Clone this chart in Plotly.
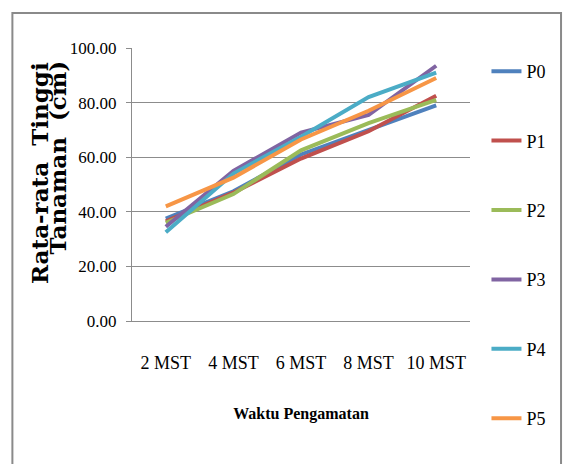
import plotly.graph_objects as go

# Observation times and mean plant height (cm) per treatment
weeks = ["2 MST", "4 MST", "6 MST", "8 MST", "10 MST"]
p0 = [37.5, 47.5, 61.0, 70.0, 79.0]
p1 = [36.5, 47.0, 59.5, 69.5, 82.5]
p2 = [36.0, 46.5, 62.5, 72.5, 81.0]
p3 = [34.5, 55.0, 69.0, 75.5, 93.5]
p4 = [32.5, 54.0, 67.5, 82.0, 91.0]
p5 = [42.0, 52.5, 66.5, 77.0, 89.0]
series_names = ["P0", "P1", "P2", "P3", "P4", "P5"]
series_values = [p0, p1, p2, p3, p4, p5]
colors = ["#4F81BD", "#C0504D", "#9BBB59", "#8064A2", "#4BACC6", "#F79646"]

W, H = 563, 464
ML, MR, MT, MB = 132, 82, 48, 143
PW, PH = W - ML - MR, H - MT - MB


def px_x(x):
    return (x - ML) / PW


def px_y(y):
    return (H - MB - y) / PH


fig = go.Figure()
for name, vals, col in zip(series_names, series_values, colors):
    fig.add_trace(go.Scatter(
        x=weeks, y=vals, name=name, mode="lines",
        line=dict(color=col, width=4),
        legendgroup=name,
    ))

serif = "Liberation Serif, Times New Roman, serif"
grid = "#8c8c8c"

fig.update_layout(
    width=W, height=H,
    margin=dict(l=ML, r=MR, t=MT, b=MB),
    paper_bgcolor="white", plot_bgcolor="white",
    font=dict(family=serif, size=17, color="black"),
    showlegend=True,
    legend=dict(
        x=px_x(498), y=px_y(53), xanchor="left", yanchor="top",
        font=dict(family=serif, size=18, color="black"),
        tracegroupgap=43, bgcolor="rgba(0,0,0,0)",
        maxheight=460,
    ),
    xaxis=dict(
        type="category", categoryorder="array", categoryarray=weeks,
        range=[-0.5, 4.5], showgrid=False,
        showline=True, linecolor=grid, linewidth=1,
        ticks="", ticklabelstandoff=25,
        tickfont=dict(family=serif, size=18),
        title=dict(text="<b>Waktu Pengamatan</b>",
                   font=dict(family=serif, size=16), standoff=36),
    ),
    yaxis=dict(
        range=[0, 100], dtick=20, tickformat=".2f",
        showgrid=True, gridcolor=grid, gridwidth=1,
        showline=True, linecolor=grid, linewidth=1,
        ticks="outside", ticklen=5, tickcolor=grid,
        ticklabelstandoff=6,
        tickfont=dict(family=serif, size=17),
        zeroline=False,
    ),
    shapes=[dict(
        type="rect", xref="paper", yref="paper",
        x0=px_x(8.5), x1=px_x(575), y0=px_y(475), y1=px_y(13),
        line=dict(color="#8a8a8a", width=2), fillcolor="rgba(0,0,0,0)",
        layer="below",
    )],
    annotations=[
        dict(text="<b>Rata-rata\u00a0\u00a0Tinggi</b>", textangle=-90,
             xref="paper", yref="paper", x=px_x(36), y=px_y(173),
             showarrow=False, xanchor="center", yanchor="middle",
             font=dict(family="DejaVu Serif", size=23, color="black")),
        dict(text="<b>Tanaman\u00a0\u00a0(cm)</b>", textangle=-90,
             xref="paper", yref="paper", x=px_x(55), y=px_y(157),
             showarrow=False, xanchor="center", yanchor="middle",
             font=dict(family="DejaVu Serif", size=23, color="black")),
    ],
)

fig.write_html("out.html")
